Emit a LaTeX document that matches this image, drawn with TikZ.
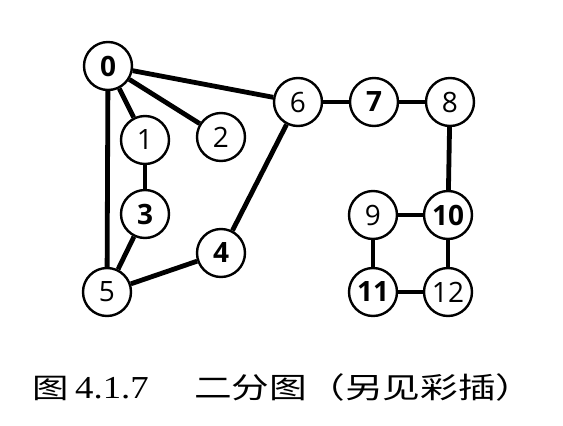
\documentclass[tikz,border=0pt]{standalone}
\usepackage{fontspec}
\setsansfont{Open Sans}
\newfontfamily\cjk[FakeStretch=1.3]{Noto Sans CJK SC}
\newfontfamily\capnum[FakeStretch=1.15]{Liberation Serif}

\begin{document}
\begin{tikzpicture}[x=1pt, y=-1pt]
        % Define node styles
        \tikzstyle{vertex}=[circle,draw=black,line width=2.4pt,fill=white,minimum size=48pt,inner sep=0pt,font=\sffamily\fontsize{28}{28}\selectfont]
        \tikzstyle{bvertex}=[vertex,font=\sffamily\bfseries\fontsize{28}{28}\selectfont]
        \tikzstyle{edge}=[line width=4.8pt]

        \useasboundingbox (0,0) rectangle (563,426);

        % Plain vertices
        \foreach \m/\x/\y in {1/145/140, 2/221/137, 5/107/292, 6/298/102, 8/450/102, 9/373/215, 12/448/292}
            \node [vertex] (v-\m) at (\x,\y) {\m};

        % Bold vertices
        \foreach \m/\x/\y in {0/108/66, 3/145/214, 4/221/253, 7/374/102, 10/448/215, 11/373/292}
            \node [bvertex] (v-\m) at (\x,\y) {\m};

        % Edges
        \foreach \a/\b in {0/1, 0/2, 0/5, 0/6, 1/3, 3/5, 5/4, 4/6, 6/7, 7/8, 8/10, 9/10, 9/11, 10/12, 11/12}
            \draw [edge] (v-\a) -- (v-\b);

        % Caption
        \node [anchor=base west, inner sep=0pt, font=\fontsize{28}{28}\selectfont] (cap-fig) at (32,398) {\cjk 图};
        \node [anchor=base west, inner sep=0pt, font=\fontsize{32}{32}\selectfont] (cap-num) at (75,398) {\capnum 4.1.7};
        \node [anchor=base west, inner sep=0pt, font=\fontsize{29}{29}\selectfont] (cap-text) at (194,398) {\cjk 二分图（另见彩插）};
    \end{tikzpicture}
\end{document}
